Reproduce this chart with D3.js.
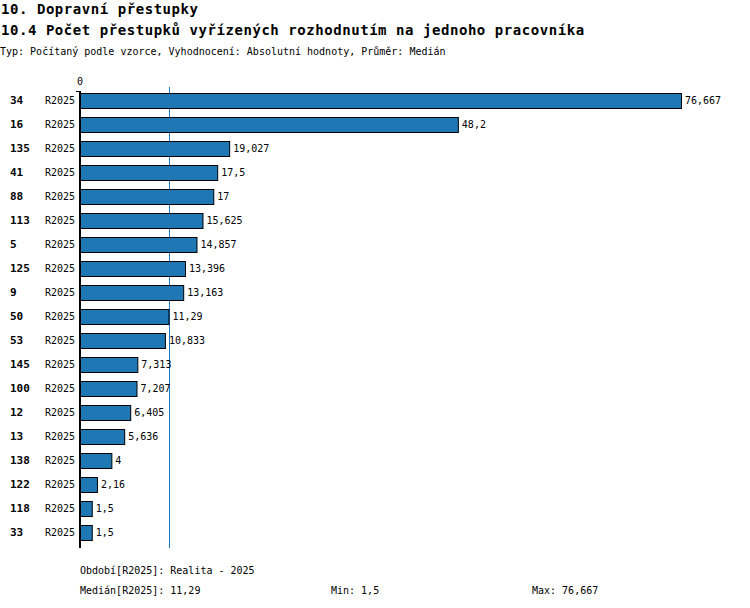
<!DOCTYPE html>
<html>
<head>
<meta charset="utf-8">
<script src="https://cdn.jsdelivr.net/npm/d3@7.9.0/dist/d3.min.js"></script>
<style>
  body { margin: 0; background: #fff; }
  svg text { font-family: "DejaVu Sans Mono", "Liberation Mono", monospace; fill: #000; }
</style>
</head>
<body>
<svg id="chart" width="750" height="608"></svg>
<script>
// row ids (unit codes), period and values
const ids = ['34', '16', '135', '41', '88', '113', '5', '125', '9', '50', '53', '145', '100', '12', '13', '138', '122', '118', '33'];
const period = 'R2025';
const values = [76.667, 48.2, 19.027, 17.5, 17, 15.625, 14.857, 13.396, 13.163, 11.29, 10.833, 7.313, 7.207, 6.405, 5.636, 4, 2.16, 1.5, 1.5];

const titles = ['10. Dopravní přestupky', '10.4 Počet přestupků vyřízených rozhodnutím na jednoho pracovníka'];
const subtitle = 'Typ: Počítaný podle vzorce, Vyhodnocení: Absolutní hodnoty, Průměr: Medián';
const periodNote = 'Období[R2025]: Realita - 2025';

const rows = ids.map((id, i) => ({ id, value: values[i] }));

// czech number format, comma as decimal separator
const cz = d3.formatLocale({ decimal: ',', thousands: ' ', grouping: [3], currency: ['', ' Kč'] });
const fmt = cz.format('~f');

const svg = d3.select('#chart');

const x = d3.scaleLinear().domain([0, d3.max(values)]).range([80, 681]);
const y = d3.scaleBand().domain(ids).range([88, 544]).paddingInner(0.375).paddingOuter(0.1875);

// titles
svg.append('text').attr('x', 1).attr('y', 14)
  .style('font-size', '14px').style('font-weight', 'bold').style('letter-spacing', '0.55px')
  .text(titles[0]);
svg.append('text').attr('x', 1).attr('y', 35)
  .style('font-size', '14px').style('font-weight', 'bold').style('letter-spacing', '0.55px')
  .text(titles[1]);
svg.append('text').attr('x', 0).attr('y', 55)
  .style('font-size', '10px')
  .text(subtitle);

// zero label on top
svg.append('text').attr('x', x(0)).attr('y', 85)
  .attr('text-anchor', 'middle').style('font-size', '10px')
  .text(fmt(0));

// median line (behind the bars)
const med = d3.median(values);
svg.append('line')
  .attr('x1', Math.round(x(med)) + 0.5).attr('x2', Math.round(x(med)) + 0.5)
  .attr('y1', 87).attr('y2', 548)
  .attr('stroke', '#1a7ccc').attr('stroke-width', 1);

// bars
svg.append('g').selectAll('rect')
  .data(rows)
  .join('rect')
  .attr('x', x(0) + 0.5)
  .attr('y', d => Math.round(y(d.id)) + 0.5)
  .attr('width', d => x(d.value) - x(0))
  .attr('height', Math.round(y.bandwidth()))
  .attr('fill', '#1f77b4')
  .attr('stroke', '#000')
  .attr('stroke-width', 1);

// value labels
svg.append('g').selectAll('text')
  .data(rows)
  .join('text')
  .attr('x', d => x(d.value) + 4)
  .attr('y', d => y(d.id) + y.bandwidth() / 2 + 4)
  .style('font-size', '10px')
  .text(d => fmt(d.value));

// row ids and period labels
svg.append('g').selectAll('text')
  .data(rows)
  .join('text')
  .attr('x', 10)
  .attr('y', d => y(d.id) + y.bandwidth() / 2 + 4)
  .style('font-size', '11px').style('font-weight', 'bold')
  .text(d => d.id);
svg.append('g').selectAll('text')
  .data(rows)
  .join('text')
  .attr('x', 45)
  .attr('y', d => y(d.id) + y.bandwidth() / 2 + 4)
  .style('font-size', '10px')
  .text(period);

// zero axis line
svg.append('line')
  .attr('x1', x(0)).attr('x2', x(0))
  .attr('y1', 91).attr('y2', 548)
  .attr('stroke', '#000').attr('stroke-width', 2);
svg.append('line')
  .attr('x1', x(0) - 4).attr('x2', x(0))
  .attr('y1', 91.5).attr('y2', 91.5)
  .attr('stroke', '#000').attr('stroke-width', 1);

// footer
svg.append('text').attr('x', 80).attr('y', 574).style('font-size', '10px').text(periodNote);
svg.append('text').attr('x', 80).attr('y', 594).style('font-size', '10px')
  .text(`Medián[${period}]: ${fmt(med)}`);
svg.append('text').attr('x', 331).attr('y', 594).style('font-size', '10px')
  .text(`Min: ${fmt(d3.min(values))}`);
svg.append('text').attr('x', 532).attr('y', 594).style('font-size', '10px')
  .text(`Max: ${fmt(d3.max(values))}`);
</script>
</body>
</html>
